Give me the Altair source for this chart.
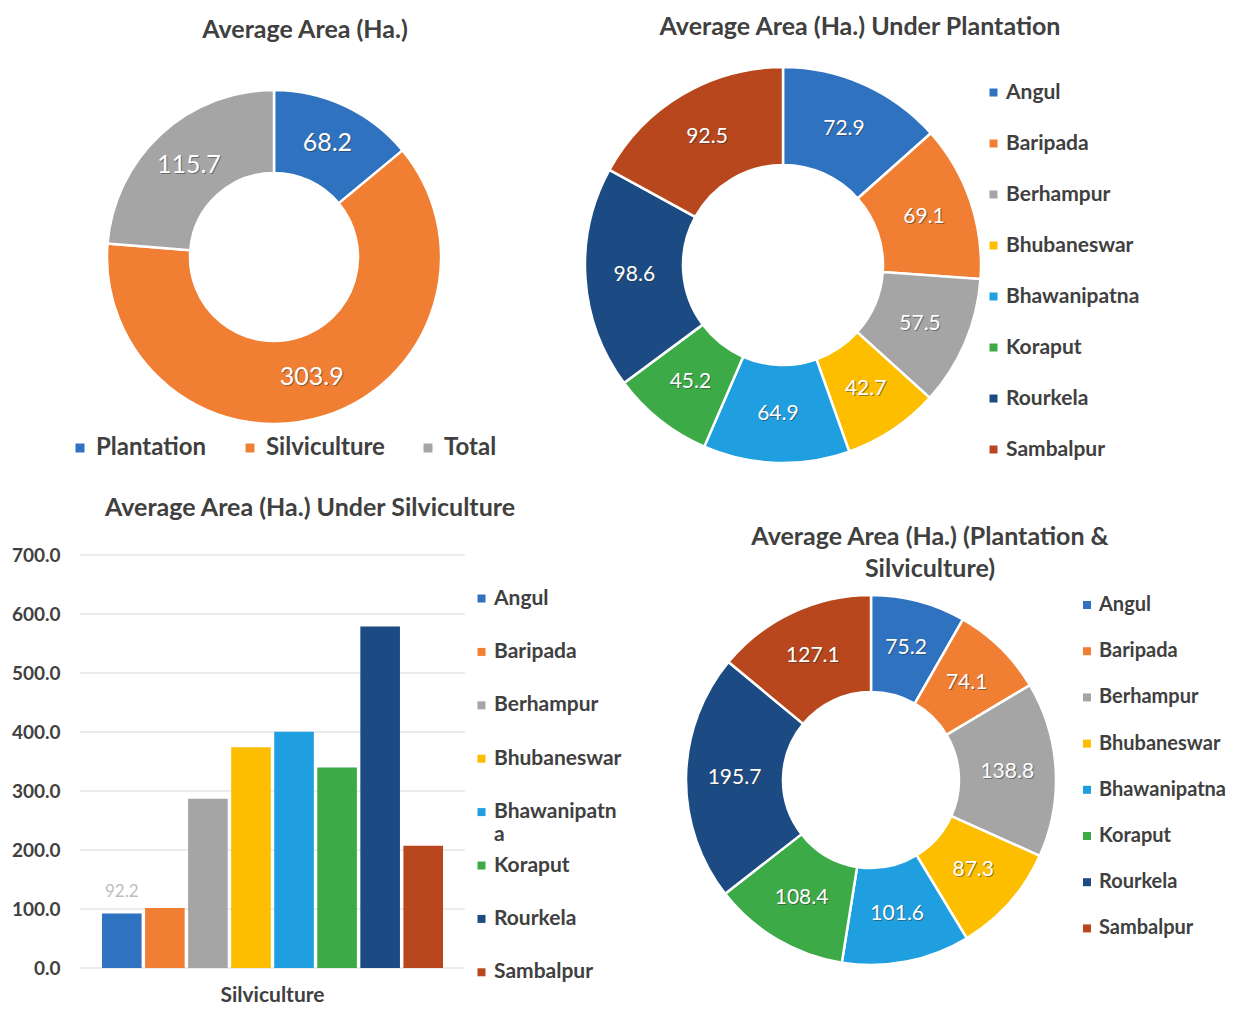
import altair as alt
import pandas as pd

FONT = "Lato"
DARK = "#404040"

# ---------------- data ----------------
summary_cats = ["Plantation", "Silviculture", "Total"]
summary_vals = [68.2, 303.9, 115.7]
summary_colors = ["#2F72C0", "#F07F33", "#A5A5A5"]

cities = ["Angul", "Baripada", "Berhampur", "Bhubaneswar",
          "Bhawanipatna", "Koraput", "Rourkela", "Sambalpur"]
city_colors = ["#2F72C0", "#F07F33", "#A5A5A5", "#FDBE00",
               "#1F9FDF", "#3DAA48", "#1C4A82", "#B8471E"]
plantation_vals = [72.9, 69.1, 57.5, 42.7, 64.9, 45.2, 98.6, 92.5]
silviculture_vals = [92.2, 101.5, 287.0, 374.0, 400.5, 340.0, 579.0, 207.0]
combined_vals = [75.2, 74.1, 138.8, 87.3, 101.6, 108.4, 195.7, 127.1]
y_ticks = [0, 100, 200, 300, 400, 500, 600, 700]
bar_category = "Silviculture"
labelled_bar = "Angul"

title_a = "Average Area (Ha.)"
title_b = "Average Area (Ha.) Under Plantation"
title_c = "Average Area (Ha.) Under Silviculture"
title_d = "Average Area (Ha.) (Plantation &\nSilviculture)"


def city_legend(x, y, row_pad, font_size=21, multiline=False):
    kw = {}
    if multiline:
        kw["labelExpr"] = "datum.label == 'Bhawanipatna' ? ['Bhawanipatn', 'a'] : datum.label"
        kw["gridAlign"] = "all"
    return alt.Legend(
        orient="none", legendX=x, legendY=y, direction="vertical", title=None,
        symbolType="square", symbolSize=64, symbolStrokeWidth=0,
        labelFont=FONT, labelFontSize=font_size, labelFontWeight="bold", labelColor=DARK,
        rowPadding=row_pad, labelOffset=2, padding=0, labelLimit=300, **kw,
    )


def donut(cats, vals, colors, cx, cy, r_in, r_out, label_size, legend):
    df = pd.DataFrame({"cat": cats, "v": vals, "i": list(range(len(cats)))})
    base = alt.Chart(df).encode(
        theta=alt.Theta("v:Q", stack=True),
        order=alt.Order("i:Q", sort="ascending"),
        x=alt.value(cx), y=alt.value(cy),
    )
    arcs = base.mark_arc(innerRadius=r_in, outerRadius=r_out,
                         stroke="white", strokeWidth=2.5).encode(
        color=alt.Color("cat:N", scale=alt.Scale(domain=cats, range=colors), legend=legend)
    )
    mid = (r_in + r_out) / 2
    shadow = base.mark_text(radius=mid, fontSize=label_size, font=FONT, color="#333333",
                            opacity=0.5, dx=1, dy=1).encode(text=alt.Text("v:Q", format=".1f"))
    text = base.mark_text(radius=mid, fontSize=label_size, font=FONT,
                          color="white").encode(text=alt.Text("v:Q", format=".1f"))
    return alt.layer(arcs, shadow, text)


def title_text(t, x, y):
    return alt.Chart(pd.DataFrame({"t": [t]})).mark_text(
        font=FONT, fontSize=25, fontWeight="bold", color=DARK,
        align="center", baseline="middle", lineBreak="\n", lineHeight=32,
    ).encode(text="t:N", x=alt.value(x), y=alt.value(y))


# ---------------- panel A ----------------
legend_a = alt.Legend(
    orient="none", legendX=60, legendY=428, direction="horizontal", title=None,
    symbolType="square", symbolSize=80, symbolStrokeWidth=0,
    labelFont=FONT, labelFontSize=24, labelFontWeight="bold", labelColor=DARK,
    columnPadding=31, labelOffset=4, padding=0,
)
panel_a = donut(summary_cats, summary_vals, summary_colors, 266, 249, 84, 167, 25, legend_a)

# ---------------- panel B ----------------
panel_b = donut(cities, plantation_vals, city_colors, 775, 257, 100, 198, 21,
                city_legend(975, 74, 29))

# ---------------- panel D ----------------
panel_d = donut(cities, combined_vals, city_colors, 863, 772, 88, 185, 21,
                city_legend(1069, 587, 26.2, font_size=20))

# ---------------- panel C (bars) ----------------
bar_df = pd.DataFrame({"cat": [bar_category] * len(cities), "city": cities, "v": silviculture_vals})
y_scale = alt.Scale(domain=[0, 700], range=[960, 547], nice=False)
y_axis = alt.Axis(values=y_ticks, format=".1f", offset=-60, domain=False, ticks=False,
                  grid=False, labelPadding=8, labelFont=FONT, labelFontSize=19,
                  labelFontWeight="bold", labelColor=DARK, title=None)
x_scale = alt.Scale(range=[72, 457], paddingInner=0, paddingOuter=0.0645)
x_axis = alt.Axis(offset=-38, domain=False, ticks=False, grid=False, labelPadding=16,
                  labelFont=FONT, labelFontSize=21, labelFontWeight="bold",
                  labelColor=DARK, title=None, labelAngle=0)
offset_scale = alt.Scale(domain=cities, paddingInner=0.08, paddingOuter=0)

grid = alt.Chart(pd.DataFrame({"t": y_ticks})).mark_rule(color="#D9D9D9", strokeWidth=1).encode(
    y=alt.Y("t:Q", scale=y_scale, axis=y_axis),
    x=alt.value(72), x2=alt.value(457),
)
bars = alt.Chart(bar_df).mark_bar().encode(
    x=alt.X("cat:N", scale=x_scale, axis=x_axis),
    xOffset=alt.XOffset("city:N", scale=offset_scale),
    y=alt.Y("v:Q", scale=y_scale, axis=y_axis),
    color=alt.Color("city:N", scale=alt.Scale(domain=cities, range=city_colors),
                    legend=city_legend(463, 580, 8.4, multiline=True)),
)
bar_label = alt.Chart(bar_df).transform_filter(
    alt.datum.city == labelled_bar
).mark_text(font=FONT, fontSize=17, color="#BDBDBD", dy=-22).encode(
    x=alt.X("cat:N", scale=x_scale, axis=x_axis),
    xOffset=alt.XOffset("city:N", scale=offset_scale),
    y=alt.Y("v:Q", scale=y_scale, axis=y_axis),
    text=alt.Text("v:Q", format=".1f"),
)
panel_c = alt.layer(grid, bars, bar_label)

titles = alt.layer(
    title_text(title_a, 297, 22),
    title_text(title_b, 852, 19),
    title_text(title_c, 302, 500),
    title_text(title_d, 922, 529),
)

chart = alt.layer(panel_a, panel_b, panel_c, panel_d, titles).resolve_scale(
    color="independent", theta="independent"
).resolve_legend(color="independent").properties(
    width=1221, height=998, autosize=alt.AutoSizeParams(type="none"), padding=0,
    background="white",
).configure_view(stroke=None)

chart.save("out.html", embed_options={"renderer": "svg", "actions": False})
